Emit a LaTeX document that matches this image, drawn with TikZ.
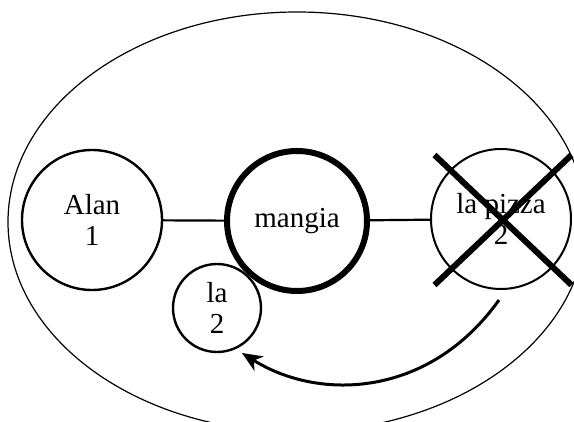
\documentclass[tikz,border=0pt]{standalone}
\usepackage{fontspec}
\setmainfont{Liberation Serif}
\usepackage{tikz}
\usetikzlibrary{arrows.meta}
\usetikzlibrary{shapes.misc}
\usetikzlibrary{positioning}
\tikzset{%
  circb/.style={circle,draw,line width=2.4pt,minimum size=140pt,inner sep=0pt,align=center,font=\fontsize{29}{31}\selectfont},
  circthick/.style={circb,line width=6pt},
  circthin/.style={circb,line width=2pt},
  crossb/.style={cross out,draw,line width=6pt,minimum width=137pt,minimum height=130pt,inner sep=0pt,outer sep=0pt}
}
\begin{document}
\begin{tikzpicture}[x=1pt,y=-1pt]
            \useasboundingbox (0,0) rectangle (574,422);
            \draw[line width=1.2pt] (297,222) ellipse [x radius=289, y radius=210];
            \node[circb](alan) at (92,220){Alan\\1};
            \node[circthick](mangia) at (297,221){mangia};
            \node[circthin](pizza) at (501,219){la pizza\\2};
            \node[circb,minimum size=88pt](la) at (217,308){la\\2};
            \node[crossb](cross) at (503,220){};
            \draw[line width=2.2pt] (alan) -- (mangia);
            \draw[line width=2.2pt] (mangia) -- (pizza);
            \coordinate (from) at (499,300);
            \coordinate (to) at (242,353);
            \draw[line width=3pt,-{Stealth[length=20pt,width=17pt,inset=6pt]}] (from) .. controls (430,397) and (320,402) .. (to);
        \end{tikzpicture}
\end{document}
